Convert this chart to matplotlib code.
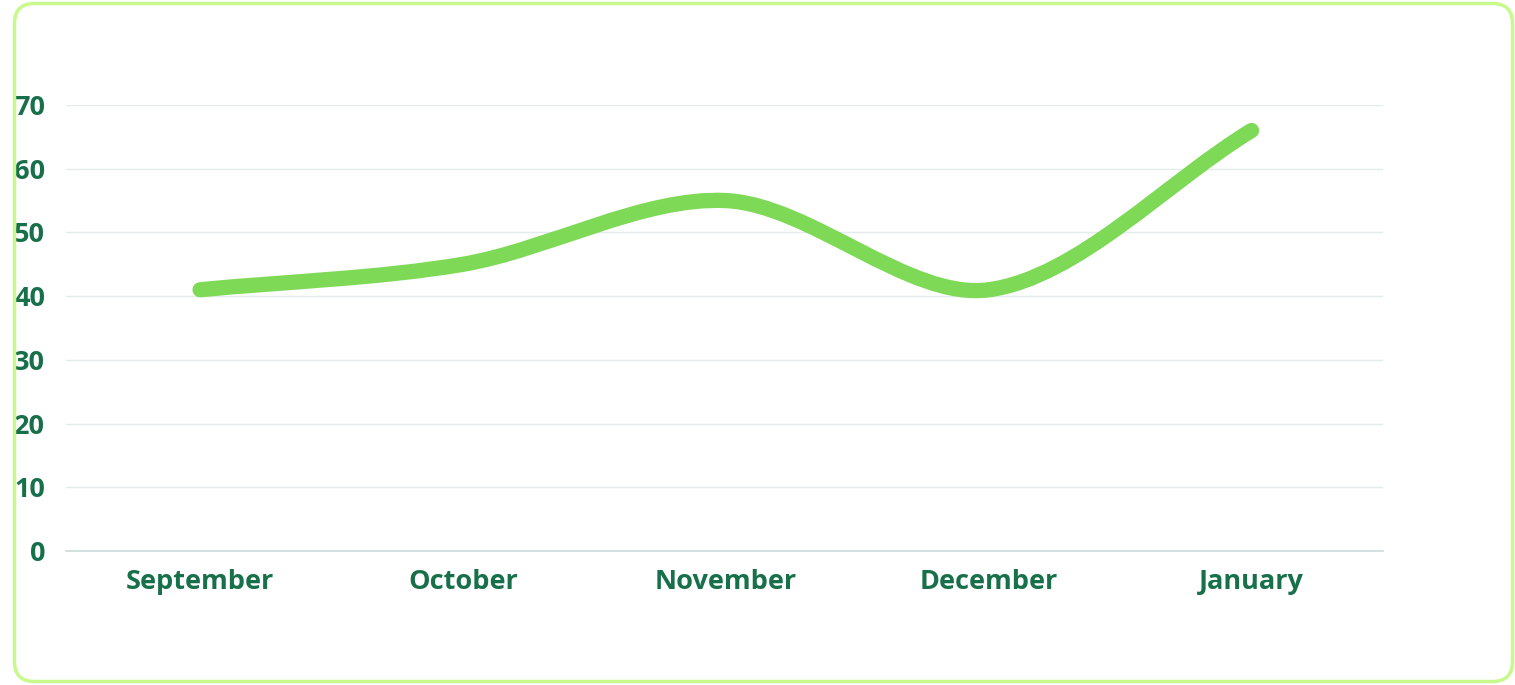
import numpy as np
import matplotlib.pyplot as plt
from matplotlib.path import Path
from matplotlib.patches import PathPatch, FancyBboxPatch

months = ['September', 'October', 'November', 'December', 'January']
values = [41, 45, 55, 41, 66]
yticks = [0, 10, 20, 30, 40, 50, 60, 70]

text_color = '#17704a'
line_color = '#7ed957'
grid_color = '#e3ecec'


def spline_path(ax, xs, ys, tension=0.4):
    # chart.js style bezier curve, control points from pixel distances
    pts = np.column_stack([xs, ys]).astype(float)
    pix = ax.transData.transform(pts)
    n = len(pts)
    ctrl_prev = []
    ctrl_next = []
    for i in range(n):
        p0 = pix[max(i - 1, 0)]
        p1 = pix[i]
        p2 = pix[min(i + 1, n - 1)]
        d01 = np.hypot(*(p1 - p0))
        d12 = np.hypot(*(p2 - p1))
        tot = d01 + d12
        s01 = d01 / tot if tot else 0
        s12 = d12 / tot if tot else 0
        ctrl_prev.append(p1 - tension * s01 * (p2 - p0))
        ctrl_next.append(p1 + tension * s12 * (p2 - p0))
    inv = ax.transData.inverted()
    verts = [pts[0]]
    codes = [Path.MOVETO]
    for i in range(n - 1):
        verts += [inv.transform(ctrl_next[i]), inv.transform(ctrl_prev[i + 1]), pts[i + 1]]
        codes += [Path.CURVE4] * 3
    return Path(verts, codes)


def main():
    plt.rcParams['font.family'] = ['Open Sans', 'DejaVu Sans']
    fig = plt.figure(figsize=(15.15, 6.85), dpi=100)
    ax = fig.add_axes([66 / 1515, 134 / 685, (1383 - 66) / 1515, 446 / 685])

    x = np.arange(len(months))
    ax.set_xlim(-0.51, 4.5)
    ax.set_ylim(0, 70)

    ax.set_yticks(yticks)
    ax.set_xticks(x)
    ax.set_xticklabels(months)
    for s in ['top', 'right', 'left']:
        ax.spines[s].set_visible(False)
    ax.spines['bottom'].set_color('#c9dcda')
    ax.spines['bottom'].set_linewidth(1.2)
    ax.yaxis.grid(True, color=grid_color, linewidth=1)
    ax.set_axisbelow(True)
    ax.tick_params(axis='both', length=0, labelcolor=text_color)
    ax.tick_params(axis='y', pad=15, labelsize=19.5)
    ax.tick_params(axis='x', pad=13, labelsize=19.5)
    for lab in ax.get_xticklabels() + ax.get_yticklabels():
        lab.set_fontweight('bold')

    path = spline_path(ax, x, values, tension=0.32)
    ax.add_patch(PathPatch(path, facecolor='none', edgecolor=line_color,
                           linewidth=11, capstyle='round', joinstyle='round',
                           clip_on=False))

    # rounded card border
    border = FancyBboxPatch((0.145, 0.035), 14.98, 6.78,
                            boxstyle='round,pad=0,rounding_size=0.2',
                            transform=fig.dpi_scale_trans, facecolor='none',
                            edgecolor='#c8f98c', linewidth=2.5)
    fig.patches.append(border)

    fig.savefig('out.png', dpi=100, facecolor='white')
    plt.close()


if __name__ == "__main__":
    main()
